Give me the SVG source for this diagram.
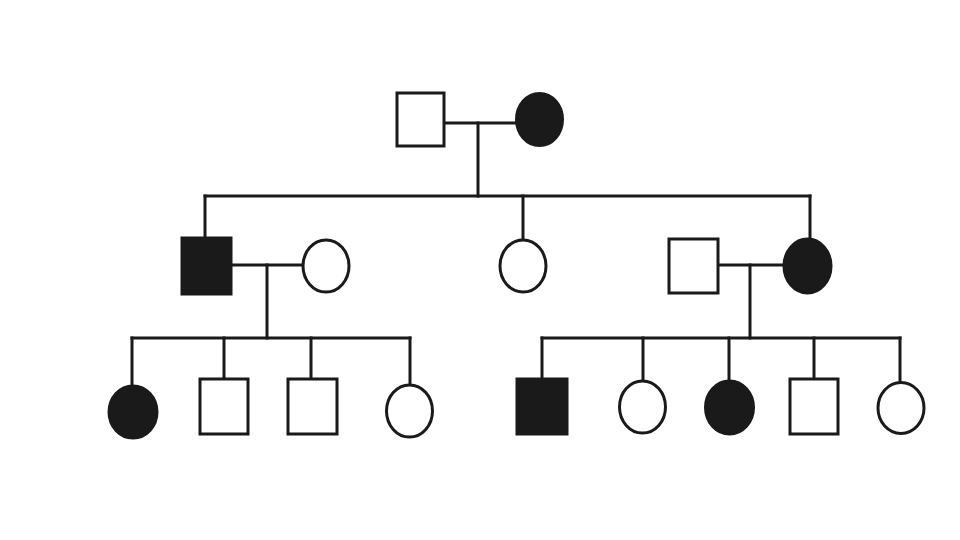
<svg xmlns="http://www.w3.org/2000/svg" width="960" height="540" viewBox="0 0 960 540">
<style>
.n{stroke:#1a1a1a;stroke-width:3}
.u{fill:#fff}
.a{fill:#1a1a1a}
.c line{stroke:#1a1a1a;stroke-width:3;stroke-linecap:square}
</style>
<rect width="960" height="540" fill="#fff"/>
<g class="c" id="connectors">
<line x1="444" y1="123" x2="515" y2="123"/>
<line x1="478" y1="123" x2="478" y2="196"/>
<line x1="205" y1="196" x2="810" y2="196"/>
<line x1="205" y1="196" x2="205" y2="238"/>
<line x1="523" y1="196" x2="523" y2="239"/>
<line x1="810" y1="196" x2="810" y2="238"/>
<line x1="231" y1="265" x2="302" y2="265"/>
<line x1="267" y1="265" x2="267" y2="338"/>
<line x1="132" y1="338" x2="410" y2="338"/>
<line x1="132" y1="338" x2="132" y2="385"/>
<line x1="224" y1="338" x2="224" y2="379"/>
<line x1="311" y1="338" x2="311" y2="379"/>
<line x1="410" y1="338" x2="410" y2="384"/>
<line x1="718" y1="265" x2="783" y2="265"/>
<line x1="750" y1="265" x2="750" y2="338"/>
<line x1="542" y1="338" x2="900" y2="338"/>
<line x1="542" y1="338" x2="542" y2="379"/>
<line x1="643" y1="338" x2="643" y2="380"/>
<line x1="729" y1="338" x2="729" y2="380"/>
<line x1="814" y1="338" x2="814" y2="379"/>
<line x1="900" y1="338" x2="900" y2="382"/>
</g>
<g id="I-1"><rect class="n u" x="397" y="93" width="47" height="53"/></g>
<g id="I-2"><ellipse class="n a" cx="539.5" cy="119.5" rx="23" ry="26"/></g>
<g id="II-1"><rect class="n a" x="182" y="238" width="49" height="56"/></g>
<g id="II-1w"><ellipse class="n u" cx="326" cy="266" rx="23" ry="26"/></g>
<g id="II-2"><ellipse class="n u" cx="523" cy="266" rx="23" ry="26"/></g>
<g id="II-3h"><rect class="n u" x="669" y="239" width="49" height="54"/></g>
<g id="II-3"><ellipse class="n a" cx="807.5" cy="266" rx="23.5" ry="27"/></g>
<g id="III-1"><ellipse class="n a" cx="133" cy="412" rx="24" ry="26"/></g>
<g id="III-2"><rect class="n u" x="200" y="379" width="48" height="55"/></g>
<g id="III-3"><rect class="n u" x="288" y="379" width="49" height="55"/></g>
<g id="III-4"><ellipse class="n u" cx="409.5" cy="411" rx="23" ry="26"/></g>
<g id="III-5"><rect class="n a" x="517" y="379" width="50" height="55"/></g>
<g id="III-6"><ellipse class="n u" cx="642.5" cy="407" rx="23" ry="26"/></g>
<g id="III-7"><ellipse class="n a" cx="729.5" cy="407.5" rx="24" ry="26.5"/></g>
<g id="III-8"><rect class="n u" x="790" y="379" width="48" height="55"/></g>
<g id="III-9"><ellipse class="n u" cx="901" cy="408" rx="23" ry="25.5"/></g>
</svg>
